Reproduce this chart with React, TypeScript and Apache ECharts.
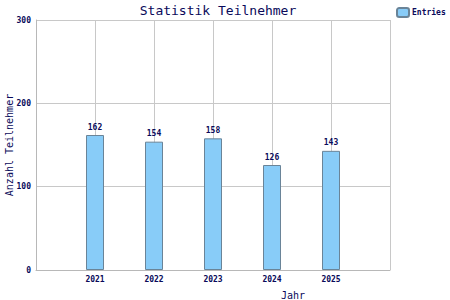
import React, { useEffect, useRef } from "react";
import * as echarts from "echarts";

const years = [2021, 2022, 2023, 2024, 2025];
const values = [162, 154, 158, 126, 143];
const yTicks = [0, 100, 200, 300];

const MONO = "'DejaVu Sans Mono', 'Liberation Mono', monospace";
const NAVY = "#0a0a5a";

export default function App() {
  const ref = useRef<HTMLDivElement>(null);
  useEffect(() => {
    if (!ref.current) return;
    const chart = echarts.init(ref.current, null, { renderer: "svg" });
    chart.setOption({
      animation: false,
      title: {
        text: "Statistik Teilnehmer",
        left: 213,
        textAlign: "center",
        top: -1,
        textStyle: { fontFamily: MONO, fontSize: 13, fontWeight: "normal", color: NAVY },
      },
      legend: {
        data: ["Entries"],
        left: 396,
        top: 7,
        padding: 0,
        itemWidth: 12,
        itemHeight: 9,
        itemGap: 3,
        textStyle: { fontFamily: MONO, fontSize: 8, fontWeight: "bold", color: NAVY, padding: [0, 0, 0, -2] },
      },
      grid: { left: 36, right: 60, top: 20, bottom: 30, containLabel: false, outerBoundsMode: "none" },
      xAxis: {
        type: "value",
        min: 2020,
        max: 2026,
        interval: 1,
        name: "Jahr",
        nameLocation: "middle",
        nameGap: 20,
        nameMoveOverlap: false,
        nameTextStyle: { fontFamily: MONO, fontSize: 10, color: NAVY, padding: [0, 0, 0, 160] },
        axisLine: { show: true, lineStyle: { color: "#b8b8b8", width: 1 } },
        axisTick: { show: false },
        axisLabel: {
          fontFamily: MONO,
          fontSize: 8,
          fontWeight: "bold",
          color: NAVY,
          margin: 5,
          formatter: (v: number) => (years.includes(v) ? String(v) : ""),
        },
        splitLine: { show: true, lineStyle: { color: "#c8c8c8", width: 1 } },
      },
      yAxis: {
        type: "value",
        min: yTicks[0],
        max: yTicks[yTicks.length - 1],
        interval: 100,
        name: "Anzahl Teilnehmer",
        nameLocation: "middle",
        nameGap: 22,
        nameMoveOverlap: false,
        nameTextStyle: { fontFamily: MONO, fontSize: 10, color: NAVY },
        axisLine: { show: true, lineStyle: { color: "#b8b8b8", width: 1 } },
        axisTick: { show: false },
        axisLabel: { fontFamily: MONO, fontSize: 8, fontWeight: "bold", color: NAVY, margin: 5 },
        splitLine: { show: true, lineStyle: { color: "#c8c8c8", width: 1 } },
      },
      series: [
        {
          name: "Entries",
          type: "bar",
          barWidth: 18,
          data: years.map((y, i) => [y, values[i]]),
          itemStyle: { color: "#88ccf8", borderColor: "#6a8498", borderWidth: 1 },
          label: {
            show: true,
            position: "top",
            distance: 4,
            fontFamily: MONO,
            fontSize: 8,
            fontWeight: "bold",
            color: NAVY,
            formatter: (p: any) => String(p.value[1]),
          },
        },
      ],
    });
    return () => chart.dispose();
  }, []);
  return <div ref={ref} style={{ width: 450, height: 300, position: "absolute", left: 0, top: 0 }} />;
}
